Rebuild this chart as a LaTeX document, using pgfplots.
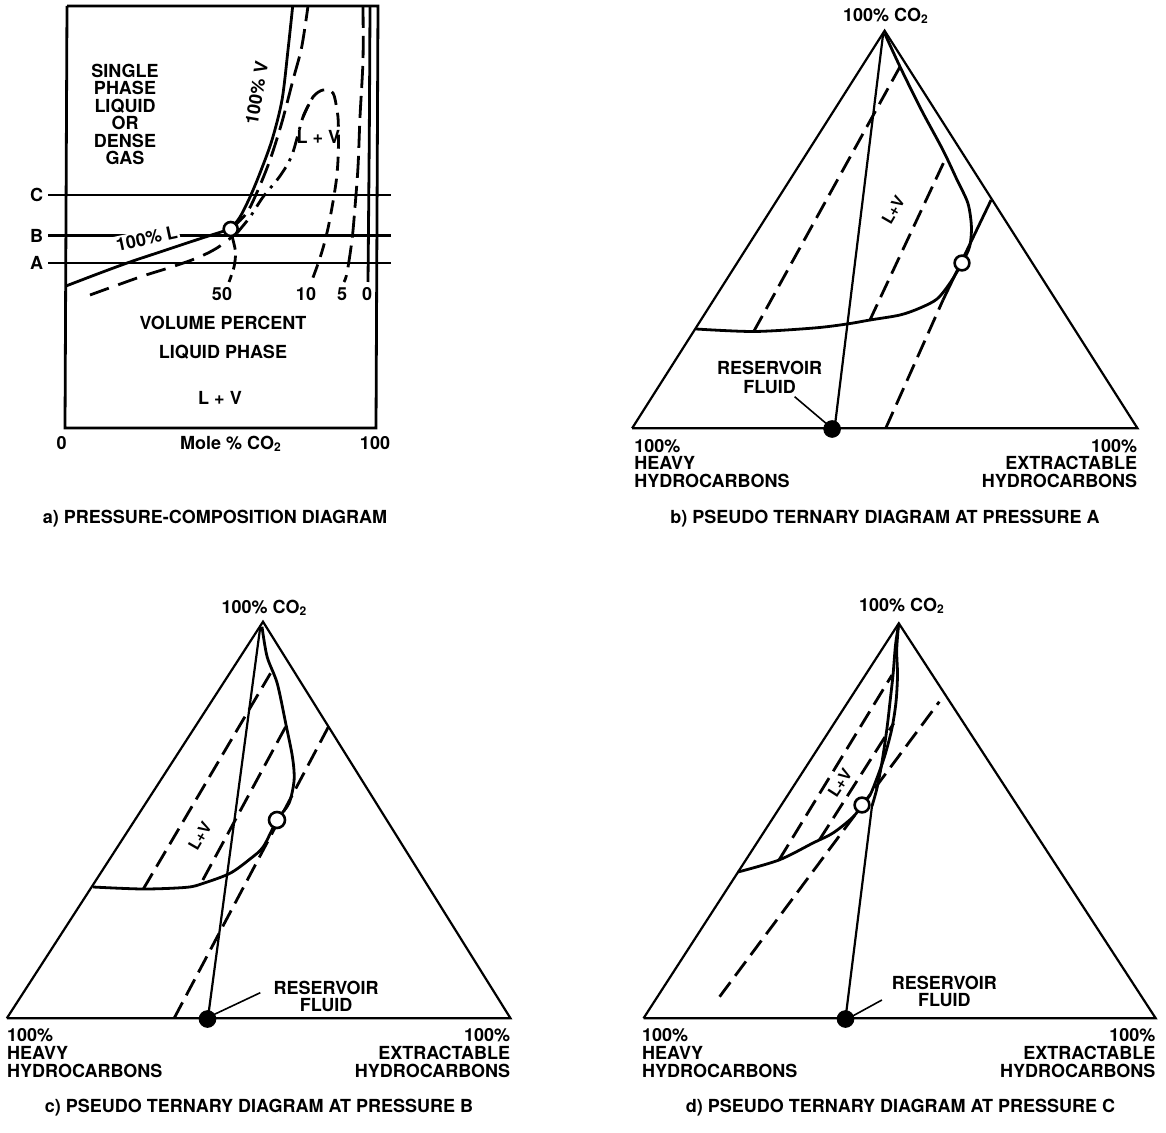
\documentclass[border=0pt]{standalone}
\usepackage{fontspec}
\setmainfont{TeX Gyre Heros}
\usepackage{pgfplots}
\pgfplotsset{compat=1.18}
\tikzset{
 ed/.style={black, line width=1.1pt},
 cv/.style={black, line width=1.4pt},
 dd/.style={black, line width=1.4pt, dash pattern=on 9pt off 4pt},
 lab/.style={font=\bfseries\fontsize{9}{10}\selectfont, inner sep=0pt, text height=6.4pt, text depth=0pt},
 slab/.style={font=\bfseries\fontsize{8}{9}\selectfont, inner sep=0pt, text height=5.7pt, text depth=0pt},
 opn/.style={only marks, mark=*, mark options={fill=white, draw=black, line width=1.3pt}},
 fld/.style={only marks, mark=*, mark options={fill=black, draw=black}},
}
\begin{document}
\begin{tikzpicture}
\begin{axis}[scale only axis, width=583pt, height=566.5pt,
  xmin=0, xmax=1166, ymin=0, ymax=1133, y dir=reverse,
  axis lines=none, clip=false]
\addplot[draw=none] coordinates {(0,0) (1166,1133)};
% ================= panel a =================
\addplot[cv] coordinates {(67,6) (378,6) (376,428) (65,428) (67,6)};
\addplot[cv] coordinates {(48,195) (391,195)};
\addplot[cv] coordinates {(48,235.5) (391,235.5)};
\addplot[cv] coordinates {(48,263) (391,263)};
% 100% L
\addplot[cv, smooth] coordinates {(66,286) (100,273) (130,262) (160,252) (187,243) (210,235.5) (230.7,229)};
% 100% V
\addplot[cv, smooth] coordinates {(230.7,229) (240,217) (250,197) (260,173) (272,140) (282,100) (288,50) (292.7,6)};
% long dashed to top
\addplot[cv, smooth, dash pattern=on 10pt off 4pt] coordinates {(231,229) (246.7,213) (258,190) (270,160) (281.7,123) (293,80) (301.7,47) (308,6)};
% 10% curve: lower-left dashed part
\addplot[cv, smooth, dash pattern=on 10pt off 5pt] coordinates {(90,295) (140,277) (170,267.5) (197,258) (217,248) (237,233)};
% 10% curve: rising dash-dot part and dome
\addplot[cv, smooth, dash pattern=on 8pt off 3.5pt on 1.5pt off 3.5pt] coordinates {(237,233) (250,217) (263,197) (280,176) (292,155) (303,117) (313,97)};
\addplot[cv, smooth, dash pattern=on 7pt off 4pt] coordinates {(303,117) (313,97) (323,90) (333,93) (337,110) (338.3,123) (338.3,153) (336.7,177) (333.3,200) (328.3,227) (323.3,247) (318.3,263) (311.7,281)};
% 50% short
\addplot[cv, smooth, dash pattern=on 7pt off 3pt] coordinates {(232,236) (235.5,252) (234,267) (229,282)};
% 5%
\addplot[cv, smooth, dash pattern=on 11pt off 4pt] coordinates {(363,6) (363,60) (360,117) (358,167) (355,207) (352,240) (347,273) (344,282)};
% 0%
\addplot[cv, smooth] coordinates {(370,6) (369.3,133) (368,282)};
\addplot[opn, mark size=3.5pt] coordinates {(230.7,229)};
\node[lab] at (125,71) {SINGLE};
\node[lab] at (125,88.3) {PHASE};
\node[lab] at (125,106) {LIQUID};
\node[lab] at (125,123.3) {OR};
\node[lab] at (125,141) {DENSE};
\node[lab] at (125,158.3) {GAS};
\node[lab, rotate=80] at (256.7,93) {100\% V};
\node[lab] at (318.3,136.7) {L + V};
\node[lab, rotate=12, fill=white, inner sep=1pt] at (146.7,238.5) {100\% L};
\node[lab] at (222,294) {50};
\node[lab] at (306,294) {10};
\node[lab] at (342,294) {5};
\node[lab] at (367,294) {0};
\node[lab] at (223,323.3) {VOLUME PERCENT};
\node[lab] at (223,351.7) {LIQUID PHASE};
\node[lab] at (220,398.3) {L + V};
\node[lab] at (231,443) {Mole \% CO\textsubscript{2}};
\node[lab] at (61.7,443) {0};
\node[lab] at (375,443) {100};
\node[lab] at (36.7,195) {C};
\node[lab] at (36.7,236) {B};
\node[lab] at (36.7,263.3) {A};
\node[lab] at (215,517) {a) PRESSURE-COMPOSITION DIAGRAM};
% ================= panel b =================
\addplot[ed] coordinates {(632.1,428.3) (1137.5,428.3) (884.6,30.7) (632.1,428.3)};
\addplot[ed] coordinates {(834.6,428.3) (883.2,33.3)};
\addplot[cv, smooth] coordinates {(884.6,33.3) (900,66.7) (921.4,110) (942.9,150) (957.1,180) (967.9,203.3) (971.4,226.7) (969.6,246.7) (962,263) (950,283) (937,299) (920,308) (900,315) (870,320) (847,324) (814,328) (754,331.5) (696,329)};
\addplot[dd] coordinates {(753.6,331.7) (900,66.7)};
\addplot[dd] coordinates {(869.6,320.7) (946.4,156.7)};
\addplot[dd] coordinates {(885.7,428.3) (943,300)};
\addplot[cv] coordinates {(943,300) (991.1,200)};
\addplot[ed, line width=0.8pt] coordinates {(794.6,396.7) (826.8,424)};
\addplot[opn, mark size=3.7pt] coordinates {(962,263)};
\addplot[fld, mark size=4.2pt] coordinates {(832.1,429)};
\node[slab, rotate=60] at (893.3,210) {L+V};
\node[lab] at (886,15) {100\% CO\textsubscript{2}};
\node[lab] at (769.6,368.3) {RESERVOIR};
\node[lab] at (769.6,386.7) {FLUID};
\node[lab, anchor=west] at (633.9,446) {100\%};
\node[lab, anchor=west] at (633.9,463.5) {HEAVY};
\node[lab, anchor=west] at (633.9,481.5) {HYDROCARBONS};
\node[lab, anchor=east] at (1137.5,446) {100\%};
\node[lab, anchor=east] at (1137.5,463.5) {EXTRACTABLE};
\node[lab, anchor=east] at (1137.5,481.5) {HYDROCARBONS};
\node[lab] at (885,517) {b) PSEUDO TERNARY DIAGRAM AT PRESSURE A};
% ================= panel c =================
\addplot[ed] coordinates {(6.8,1018.3) (510.5,1018.3) (263,621.7) (6.8,1018.3)};
\addplot[ed] coordinates {(207.9,1018.3) (260.3,626.7)};
\addplot[cv, smooth] coordinates {(262,626.7) (267.1,656.7) (277.2,683.3) (285.7,723.3) (292.4,756.7) (294.1,780) (289,803.3) (277,820) (263.3,846.7) (250,859) (230,873.3) (203.3,883.3) (186.7,887.3) (143.3,889) (93,887)};
\addplot[dd] coordinates {(143.3,889) (270.5,673.3)};
\addplot[dd] coordinates {(202.8,880) (285.7,726.7)};
\addplot[dd] coordinates {(174.1,1018.3) (328.5,726.7)};
\addplot[ed, line width=0.8pt] coordinates {(260.3,992.7) (213,1015)};
\addplot[opn, mark size=4pt] coordinates {(277,820)};
\addplot[fld, mark size=4.2pt] coordinates {(207.5,1019)};
\node[slab, rotate=60] at (200,836) {L+V};
\node[lab] at (264.5,606.7) {100\% CO\textsubscript{2}};
\node[lab] at (326.2,988.3) {RESERVOIR};
\node[lab] at (326.2,1005) {FLUID};
\node[lab, anchor=west] at (6.8,1035.5) {100\%};
\node[lab, anchor=west] at (6.8,1053) {HEAVY};
\node[lab, anchor=west] at (6.8,1071) {HYDROCARBONS};
\node[lab, anchor=east] at (510.5,1035.5) {100\%};
\node[lab, anchor=east] at (510.5,1053) {EXTRACTABLE};
\node[lab, anchor=east] at (510.5,1071) {HYDROCARBONS};
\node[lab] at (259,1106) {c) PSEUDO TERNARY DIAGRAM AT PRESSURE B};
% ================= panel d =================
\addplot[ed] coordinates {(643.5,1018.3) (1155.7,1018.3) (898.8,623.3) (643.5,1018.3)};
\addplot[ed] coordinates {(845.5,1018.3) (872,806)};
\addplot[cv, smooth] coordinates {(872,806) (877,788) (882,762) (887,728) (890,702) (893,675) (895.5,645) (898.5,625)};
\addplot[cv, smooth] coordinates {(898.5,625) (896.7,650) (897.5,675) (896,702) (892,728) (885,755) (877,778) (870,795) (862,805) (853,817) (833,833) (813,843) (779,860) (738,872)};
\addplot[dd] coordinates {(779,860) (892,675)};
\addplot[dd] coordinates {(819.3,840) (893.7,723.3)};
\addplot[dd] coordinates {(719.6,996.7) (939.3,701.7)};
\addplot[ed, line width=0.8pt] coordinates {(881.9,1000) (851.4,1016.7)};
\addplot[opn, mark size=3.7pt] coordinates {(862,805)};
\addplot[fld, mark size=4.2pt] coordinates {(845.5,1019)};
\node[slab, rotate=57] at (840,783) {L+V};
\node[lab] at (902,605) {100\% CO\textsubscript{2}};
\node[lab] at (944.4,983.3) {RESERVOIR};
\node[lab] at (944.4,1000) {FLUID};
\node[lab, anchor=west] at (641.8,1035.5) {100\%};
\node[lab, anchor=west] at (641.8,1053) {HEAVY};
\node[lab, anchor=west] at (641.8,1071) {HYDROCARBONS};
\node[lab, anchor=east] at (1155.7,1035.5) {100\%};
\node[lab, anchor=east] at (1155.7,1053) {EXTRACTABLE};
\node[lab, anchor=east] at (1155.7,1071) {HYDROCARBONS};
\node[lab] at (900.5,1106) {d) PSEUDO TERNARY DIAGRAM AT PRESSURE C};
\end{axis}
\end{tikzpicture}
\end{document}
